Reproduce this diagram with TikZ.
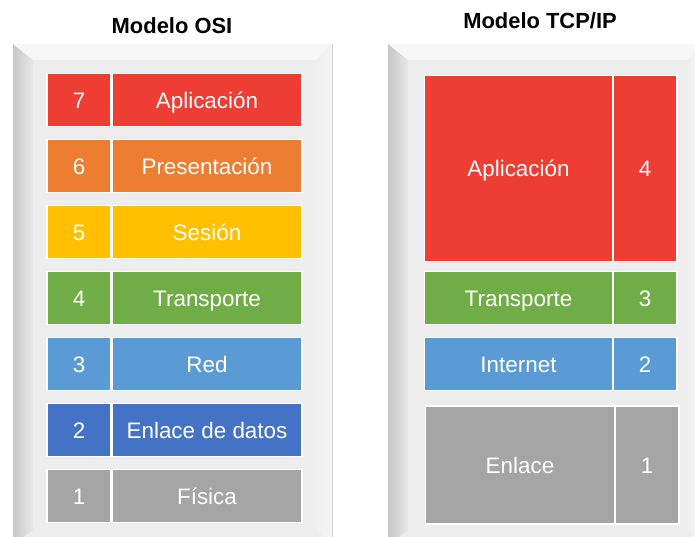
\documentclass[tikz,border=0pt]{standalone}
\usepackage{fontspec}
\setmainfont{Liberation Sans}
\definecolor{cred}{HTML}{EE3D33}
\definecolor{corange}{HTML}{ED7D31}
\definecolor{cyellow}{HTML}{FFC000}
\definecolor{cgreen}{HTML}{70AD47}
\definecolor{clblue}{HTML}{5B9BD5}
\definecolor{cblue}{HTML}{4472C4}
\definecolor{cgray}{HTML}{A5A5A5}
\definecolor{pinner}{HTML}{EDEDED}
\definecolor{ptop}{HTML}{F7F7F7}
\begin{document}
\begin{tikzpicture}[x=1bp,y=-1bp,
  layerbox/.style={draw=white,line width=1.2bp,inner sep=0pt,outer sep=0pt,text=white,
    font=\fontsize{22.5}{26}\selectfont,text height=16.2bp,text depth=0pt},
  titletext/.style={font=\bfseries\fontsize{22}{26}\selectfont,text=black,inner sep=0pt,
    text height=15.8bp,text depth=0pt}]
\useasboundingbox (0,0) rectangle (695,537);
\fill[white] (0,0) rectangle (695,537);
% ---------- OSI panel ----------
\fill[pinner] (13,44) rectangle (332,545);
\shade[left color=black!22,right color=black!9] (13,44) -- (33,60) -- (33,530) -- (13,545) -- cycle;
\shade[top color=white!97!black,bottom color=ptop] (13,44) -- (332,44) -- (316,60) -- (33,60) -- cycle;
\shade[left color=black!6,right color=black!4] (332,44) -- (332,545) -- (316,530) -- (316,60) -- cycle;
\draw[black!22,line width=1bp] (13,44) -- (13,537);
\draw[black!18,line width=1bp] (332,44) -- (332,537);
% ---------- TCP/IP panel ----------
\fill[pinner] (388,44) rectangle (700,545);
\shade[left color=black!22,right color=black!9] (388,44) -- (408,60) -- (408,530) -- (388,545) -- cycle;
\shade[top color=white!97!black,bottom color=ptop] (388,44) -- (700,44) -- (690,60) -- (408,60) -- cycle;
\shade[left color=black!6,right color=black!3] (700,44) -- (700,545) -- (688,530) -- (688,60) -- cycle;
\draw[black!22,line width=1bp] (388,44) -- (388,537);
% ---------- titles ----------
\node[titletext] (tosi) at (172,26) {Modelo OSI};
\node[titletext] (ttcp) at (540,21) {Modelo TCP/IP};
% ---------- OSI layers ----------
\foreach \n/\txt/\col/\y in {7/Aplicación/cred/100, 6/Presentación/corange/166, 5/Sesión/cyellow/232,
  4/Transporte/cgreen/298, 3/Red/clblue/364, 2/Enlace de datos/cblue/430, 1/Física/cgray/496}{
  \node[layerbox,fill=\col,minimum width=64bp,minimum height=53bp] (osin\n) at (79,\y) {\n};
  \node[layerbox,fill=\col,minimum width=190bp,minimum height=53bp] (osil\n) at (207,\y) {\txt};
}
% ---------- TCP/IP layers ----------
\node[layerbox,fill=cred,minimum width=188bp,minimum height=186bp] (tcpl4) at (518.5,168.5) {Aplicación};
\node[layerbox,fill=cred,minimum width=64bp,minimum height=186bp] (tcpn4) at (645,168.5) {4};
\node[layerbox,fill=cgreen,minimum width=188bp,minimum height=53bp] (tcpl3) at (518.5,298) {Transporte};
\node[layerbox,fill=cgreen,minimum width=64bp,minimum height=53bp] (tcpn3) at (645,298) {3};
\node[layerbox,fill=clblue,minimum width=188bp,minimum height=53bp] (tcpl2) at (518.5,364) {Internet};
\node[layerbox,fill=clblue,minimum width=64bp,minimum height=53bp] (tcpn2) at (645,364) {2};
\node[layerbox,fill=cgray,minimum width=189bp,minimum height=118bp] (tcpl1) at (520,465) {Enlace};
\node[layerbox,fill=cgray,minimum width=64bp,minimum height=118bp] (tcpn1) at (647,465) {1};
\end{tikzpicture}
\end{document}
